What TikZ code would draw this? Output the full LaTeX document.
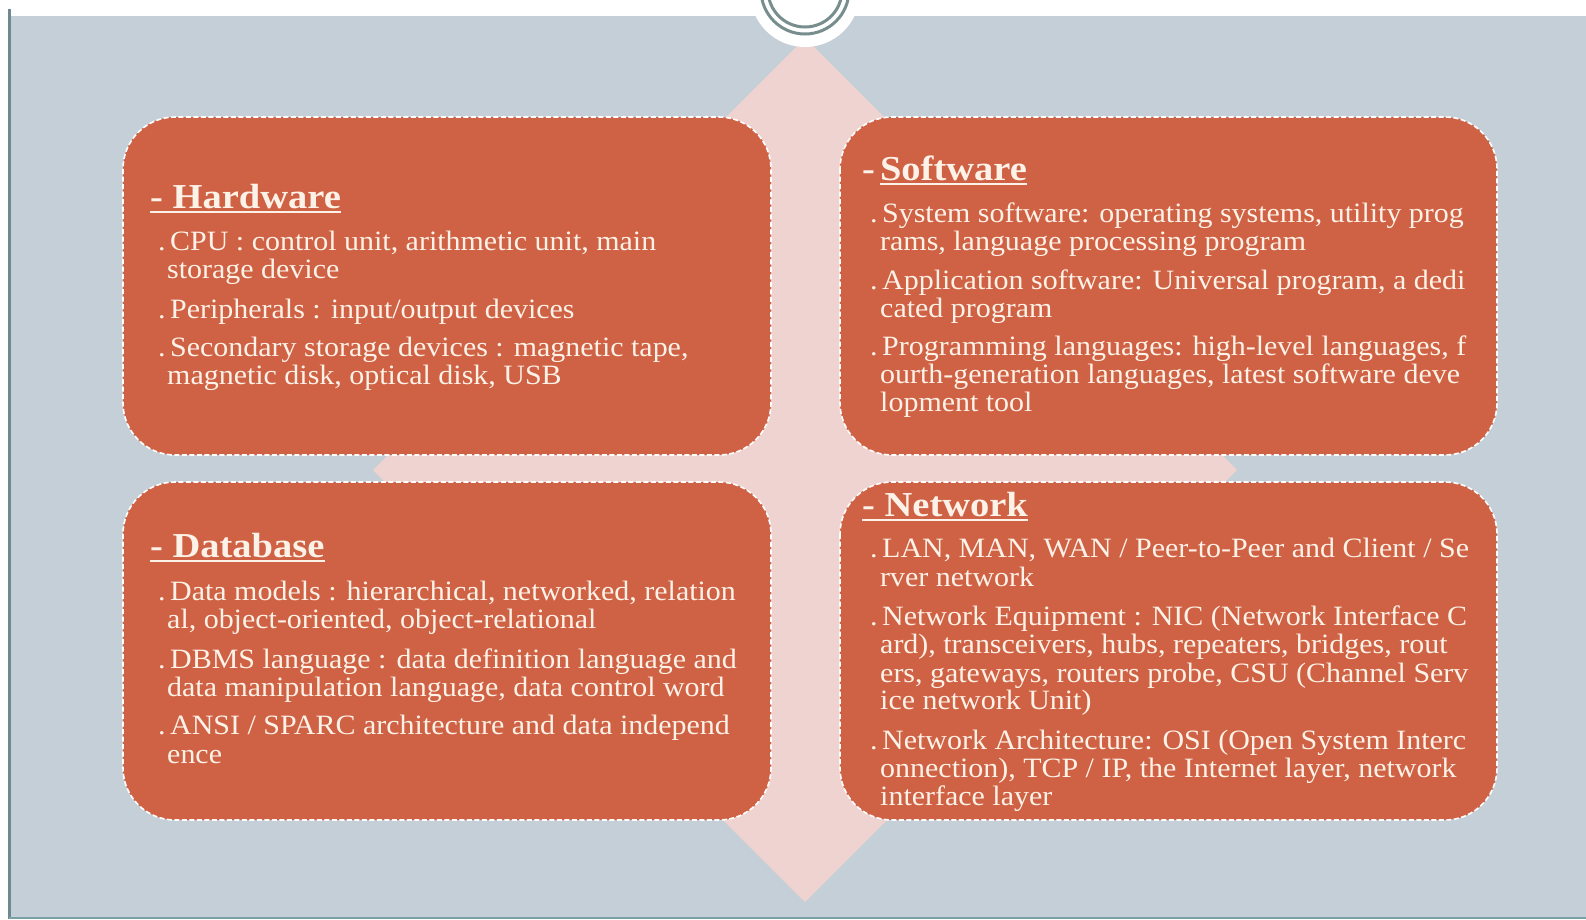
\documentclass[tikz,border=0pt]{standalone}
\usepackage{fontspec}
\setmainfont{Liberation Serif}
\newfontfamily\bodyf[FakeStretch=1.07]{Liberation Serif}
\newfontfamily\ttlf[FakeStretch=1.1]{Liberation Serif}
\definecolor{bgc}{RGB}{197,207,215}
\definecolor{boxc}{RGB}{207,98,68}
\definecolor{pinkc}{RGB}{239,211,208}
\definecolor{txtc}{RGB}{253,242,232}
\definecolor{linec}{RGB}{110,138,143}
\definecolor{linecb}{RGB}{125,160,165}
\definecolor{arcc}{RGB}{120,142,142}
\newcommand\myul[1]{\setbox0\hbox{#1}\rlap{\rule[-4.5pt]{\wd0}{2pt}}\box0}
\newcommand\bdot{.\kern4.5pt}
\begin{document}
\begin{tikzpicture}[x=1pt,y=-1pt,
  box/.style={draw=white, line width=1.6pt, dash pattern=on 5pt off 2.5pt, fill=boxc, rounded corners=52pt},
  ttl/.style={anchor=base west, inner sep=0pt, text=txtc, font=\ttlf\fontsize{35}{38}\selectfont\bfseries},
  txt/.style={anchor=base west, inner sep=0pt, text=txtc, font=\bodyf\fontsize{28}{30}\selectfont}]
\useasboundingbox (0,0) rectangle (1586,919);
\fill[white] (0,0) rectangle (1586,919);
\fill[bgc] (10,16) rectangle (1586,917);
\draw[linec, line width=3pt] (9.5,9) -- (9.5,919);
\draw[linecb, line width=2pt] (9,917.5) -- (1586,917.5);
\fill[pinkc] (805,38) -- (1237,470) -- (805,902) -- (373,470) -- cycle;
\fill[white] (805,-8) circle (55);
\draw[arcc, line width=3pt] (805,-10) circle (44);
\draw[arcc, line width=3pt] (805,-10) circle (37);
% boxes
\draw[box] (123,117) rectangle (771,455);
\draw[box] (840,117) rectangle (1497,455);
\draw[box] (123,482) rectangle (771,820);
\draw[box] (840,482) rectangle (1497,820);
% Hardware
\node[ttl] (ht) at (150,208) {\myul{- Hardware}};
\node[txt] (h1) at (158,250) {\bdot CPU : control unit, arithmetic unit, main};
\node[txt] (h2) at (167,278) {storage device};
\node[txt] (h3) at (158,318) {\bdot Peripherals : input/output devices};
\node[txt] (h4) at (158,356) {\bdot Secondary storage devices : magnetic tape,};
\node[txt] (h5) at (167,384) {magnetic disk, optical disk, USB};
% Software
\node[ttl] (st) at (862,180) {-\kern5pt\myul{Software}};
\node[txt] (s1) at (870,222) {\bdot System software: operating systems, utility prog};
\node[txt] (s2) at (880,250) {rams, language processing program};
\node[txt] (s3) at (870,289) {\bdot Application software: Universal program, a dedi};
\node[txt] (s4) at (880,317) {cated program};
\node[txt] (s5) at (870,355) {\bdot Programming languages: high-level languages, f};
\node[txt] (s6) at (880,383) {ourth-generation languages, latest software deve};
\node[txt] (s7) at (880,411) {lopment tool};
% Database
\node[ttl] (dt) at (150,557) {\myul{- Database}};
\node[txt] (d1) at (158,600) {\bdot Data models : hierarchical, networked, relation};
\node[txt] (d2) at (167,628) {al, object-oriented, object-relational};
\node[txt] (d3) at (158,668) {\bdot DBMS language : data definition language and};
\node[txt] (d4) at (167,696) {data manipulation language, data control word};
\node[txt] (d5) at (158,734) {\bdot ANSI / SPARC architecture and data independ};
\node[txt] (d6) at (167,763) {ence};
% Network
\node[ttl] (nt) at (862,516) {\myul{- Network}};
\node[txt] (n1) at (870,557) {\bdot LAN, MAN, WAN / Peer-to-Peer and Client / Se};
\node[txt] (n2) at (880,586) {rver network};
\node[txt] (n3) at (870,625) {\bdot Network Equipment : NIC (Network Interface C};
\node[txt] (n4) at (880,653) {ard), transceivers, hubs, repeaters, bridges, rout};
\node[txt] (n5) at (880,682) {ers, gateways, routers probe, CSU (Channel Serv};
\node[txt] (n6) at (880,709) {ice network Unit)};
\node[txt] (n7) at (870,749) {\bdot Network Architecture: OSI (Open System Interc};
\node[txt] (n8) at (880,777) {onnection), TCP / IP, the Internet layer, network};
\node[txt] (n9) at (880,805) {interface layer};
\end{tikzpicture}
\end{document}
